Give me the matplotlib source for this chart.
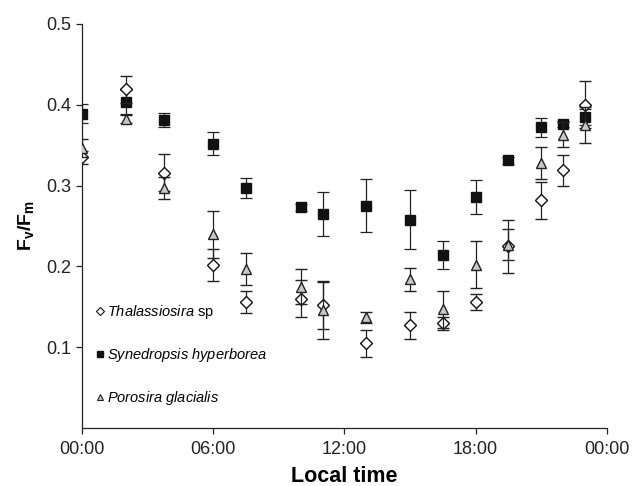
import matplotlib
matplotlib.use("Agg")
import matplotlib.pyplot as plt
from matplotlib.lines import Line2D

plt.rcParams["font.family"] = ["Liberation Sans", "DejaVu Sans"]
plt.rcParams["mathtext.fontset"] = "custom"
plt.rcParams["mathtext.rm"] = "Liberation Sans"
plt.rcParams["mathtext.it"] = "Liberation Sans:italic"
plt.rcParams["mathtext.bf"] = "Liberation Sans:bold"

# sampling times (hours of local time)
hours = [0, 2, 3.75, 6, 7.5, 10, 11, 13, 15, 16.5, 18, 19.5, 21, 22, 23]

# Thalassiosira sp
thal = [0.335, 0.419, 0.316, 0.202, 0.156, 0.160, 0.152, 0.105, 0.127, 0.130,
        0.156, 0.225, 0.282, 0.319, 0.400]
thal_err = [0.008, 0.017, 0.023, 0.020, 0.014, 0.023, 0.029, 0.017, 0.017, 0.008,
            0.010, 0.033, 0.023, 0.019, 0.029]

# Synedropsis hyperborea
syn = [0.389, 0.403, 0.381, 0.352, 0.297, 0.273, 0.265, 0.275, 0.258, 0.214,
       0.286, 0.331, 0.372, 0.376, 0.385]
syn_err = [0.012, 0.015, 0.009, 0.014, 0.012, 0.004, 0.027, 0.033, 0.036, 0.017,
           0.021, 0.004, 0.012, 0.004, 0.010]

# Porosira glacialis
poro = [0.346, 0.382, 0.297, 0.240, 0.197, 0.175, 0.146, 0.137, 0.184, 0.147,
        0.202, 0.227, 0.328, 0.363, 0.375]
poro_err = [0.011, 0.005, 0.014, 0.029, 0.020, 0.022, 0.036, 0.007, 0.014, 0.023,
            0.029, 0.019, 0.020, 0.015, 0.022]

xticks = [0, 6, 12, 18, 24]
xtick_labels = ["00:00", "06:00", "12:00", "18:00", "00:00"]
yticks = [0.1, 0.2, 0.3, 0.4, 0.5]

fig = plt.figure(figsize=(6.32, 4.86), dpi=100)
ax = fig.add_axes([0.130, 0.119, 0.830, 0.832])

err_kw = dict(linestyle="none", ecolor="#222222", elinewidth=0.9, capsize=4, capthick=0.9)
ax.errorbar(hours, syn, yerr=syn_err, marker="s", ms=7, mfc="#111111", mec="#111111",
            zorder=2, **err_kw)
ax.errorbar(hours, thal, yerr=thal_err, marker="D", ms=6.5, mfc="white", mec="#111111",
            mew=1.0, zorder=3, **err_kw)
ax.errorbar(hours, poro, yerr=poro_err, marker="^", ms=7.5, mfc="#c8c8c8", mec="#222222",
            mew=1.0, zorder=4, **err_kw)

ax.set_xlim(0, 24)
ax.set_ylim(0, 0.5)
ax.set_xticks(xticks)
ax.set_xticklabels(xtick_labels)
ax.set_yticks(yticks)
ax.tick_params(labelsize=13, length=4, width=0.9, colors="#222222")
ax.tick_params(axis="x", pad=5)
for side in ["top", "right"]:
    ax.spines[side].set_visible(False)
for side in ["left", "bottom"]:
    ax.spines[side].set_linewidth(0.9)
    ax.spines[side].set_color("#222222")

ax.set_xlabel("Local time", fontsize=15.5, fontweight="bold", labelpad=6)
ax.set_ylabel(r"$\mathbf{F_v/F_m}$", fontsize=14, labelpad=8)

handles = [
    Line2D([], [], linestyle="none", marker="D", ms=4, mfc="white", mec="#111111", mew=0.8),
    Line2D([], [], linestyle="none", marker="s", ms=5, mfc="#111111", mec="#111111"),
    Line2D([], [], linestyle="none", marker="^", ms=5, mfc="#c8c8c8", mec="#222222", mew=0.8),
]
labels = [r"$\it{Thalassiosira}$ sp", r"$\it{Synedropsis\ hyperborea}$",
          r"$\it{Porosira\ glacialis}$"]
ax.legend(handles, labels, loc="lower left", bbox_to_anchor=(0.0, 0.02), frameon=False,
          fontsize=10.5, handlelength=0.6, handletextpad=0.2, labelspacing=1.7)

fig.savefig("out.png", dpi=100)
